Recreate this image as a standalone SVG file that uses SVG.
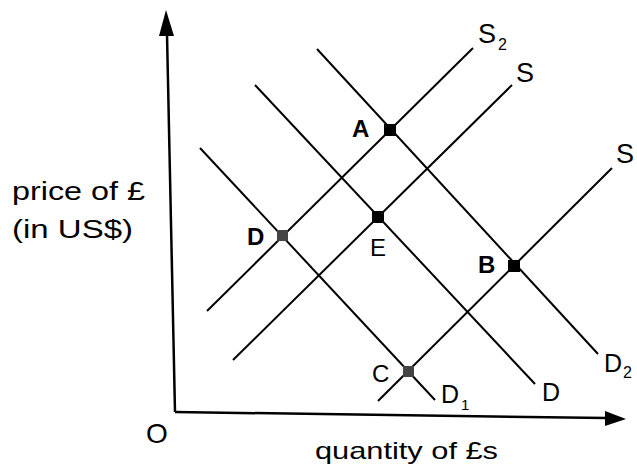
<svg xmlns="http://www.w3.org/2000/svg" width="637" height="471" viewBox="0 0 637 471">
<style>
.ax{stroke:#000;stroke-width:2.5;fill:none}
.ln{stroke:#000;stroke-width:2;fill:none}
.t{font-family:"Liberation Sans",Arial,sans-serif;fill:#000}
.b{font-weight:bold}
.pt{fill:#000}
</style>
<defs>
<marker id="ah" markerWidth="10" markerHeight="8" refX="9" refY="4" orient="auto" markerUnits="userSpaceOnUse" viewBox="0 0 10 8"><path d="M0,0 L10,4 L0,8 Z" fill="#000"/></marker>
</defs>
<rect width="637" height="471" fill="#fff"/>
<g id="axes">
<path class="ax" d="M175,412 L167,34"/>
<path d="M166,10 L159,36 L174,36 Z" fill="#000"/>
<path class="ax" d="M175,412 L606,418"/>
<path d="M626,419 L605,411 L605,426 Z" fill="#000"/>
</g>
<g id="connectors">
<path id="S2" class="ln" d="M207,311 L473,48"/>
<path id="S" class="ln" d="M233,360 L512,85"/>
<path id="Sr" class="ln" d="M378,401 L612,168"/>
<path id="D1" class="ln" d="M200,148 L435,400"/>
<path id="Dline" class="ln" d="M255,85 L535,384"/>
<path id="D2" class="ln" d="M317,49 L598,354"/>
</g>
<g id="pointA"><rect class="pt" x="384" y="124" width="12" height="12"/><text class="t b" x="352" y="137" font-size="24">A</text></g>
<g id="pointE"><rect class="pt" x="372" y="211" width="12" height="12"/><text class="t" x="370" y="256" font-size="24">E</text></g>
<g id="pointD"><rect x="277" y="230" width="11" height="11" fill="#444"/><text class="t b" x="247" y="245" font-size="24">D</text></g>
<g id="pointB"><rect class="pt" x="508" y="260" width="12" height="12"/><text class="t b" x="478" y="273" font-size="24">B</text></g>
<g id="pointC"><rect x="403" y="366" width="11" height="11" fill="#444"/><text class="t" x="372" y="382" font-size="24">C</text></g>
<g id="labels">
<text class="t" x="478" y="43" font-size="27">S</text><text class="t" x="498" y="50" font-size="16">2</text>
<text class="t" x="516" y="82" font-size="27">S</text>
<text class="t" x="616" y="163" font-size="27">S</text>
<text class="t" x="441" y="403" font-size="25">D</text><text class="t" x="461" y="410" font-size="15">1</text>
<text class="t" x="542" y="401" font-size="25">D</text>
<text class="t" x="604" y="372" font-size="25">D</text><text class="t" x="623" y="378" font-size="16">2</text>
<text class="t" x="146" y="443" font-size="28">O</text>
<text class="t" x="12" y="200" font-size="26" textLength="133" lengthAdjust="spacingAndGlyphs">price of £</text>
<text class="t" x="12" y="238" font-size="26" textLength="121" lengthAdjust="spacingAndGlyphs">(in US$)</text>
<text class="t" x="315" y="459" font-size="24" fill="#333" textLength="183" lengthAdjust="spacingAndGlyphs">quantity of £s</text>
</g>
</svg>
